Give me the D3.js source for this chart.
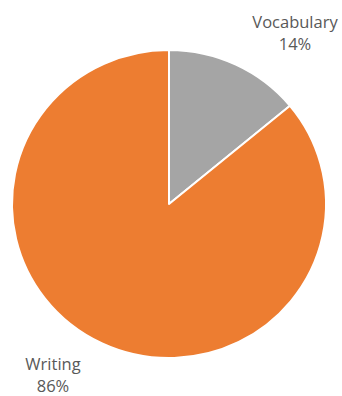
<!DOCTYPE html>
<html>
<head>
<meta charset="utf-8">
<script src="https://cdn.jsdelivr.net/npm/d3@7"></script>
<style>
  html, body { margin: 0; padding: 0; background: #fff; }
  svg { display: block; }
  text { font-family: "Open Sans", "Liberation Sans", sans-serif; fill: #595959; }
</style>
</head>
<body>
<svg id="chart" width="342" height="396"></svg>
<script>
const categories = ["Vocabulary", "Writing"];
const values = [14, 86];
const colors = ["#A5A5A5", "#ED7D31"];
const labelText = ["14%", "86%"];

const svg = d3.select("#chart");
const cx = 169, cy = 204, rx = 157, ry = 154;

const pie = d3.pie().sort(null).value(d => d.value);
const arcs = pie(categories.map((c, i) => ({ name: c, value: values[i] })));
const arc = d3.arc().innerRadius(0).outerRadius(rx);

const g = svg.append("g")
  .attr("transform", `translate(${cx},${cy}) scale(1,${ry / rx})`);

g.selectAll("path")
  .data(arcs)
  .join("path")
  .attr("d", arc)
  .attr("fill", (d, i) => colors[i])
  .attr("stroke", "#fff")
  .attr("stroke-width", 2)
  .attr("stroke-linejoin", "round");

// Category name and share, set outside the rim of each slice
const labelPos = [
  { x: 295, y: 28 },
  { x: 53, y: 370 }
];
arcs.forEach((d, i) => {
  svg.append("text")
    .attr("text-anchor", "middle")
    .attr("font-size", 16.5)
    .attr("x", labelPos[i].x)
    .attr("y", labelPos[i].y)
    .text(d.data.name);
  svg.append("text")
    .attr("text-anchor", "middle")
    .attr("font-size", 16.5)
    .attr("x", labelPos[i].x)
    .attr("y", labelPos[i].y + 22)
    .text(labelText[i]);
});
</script>
</body>
</html>
